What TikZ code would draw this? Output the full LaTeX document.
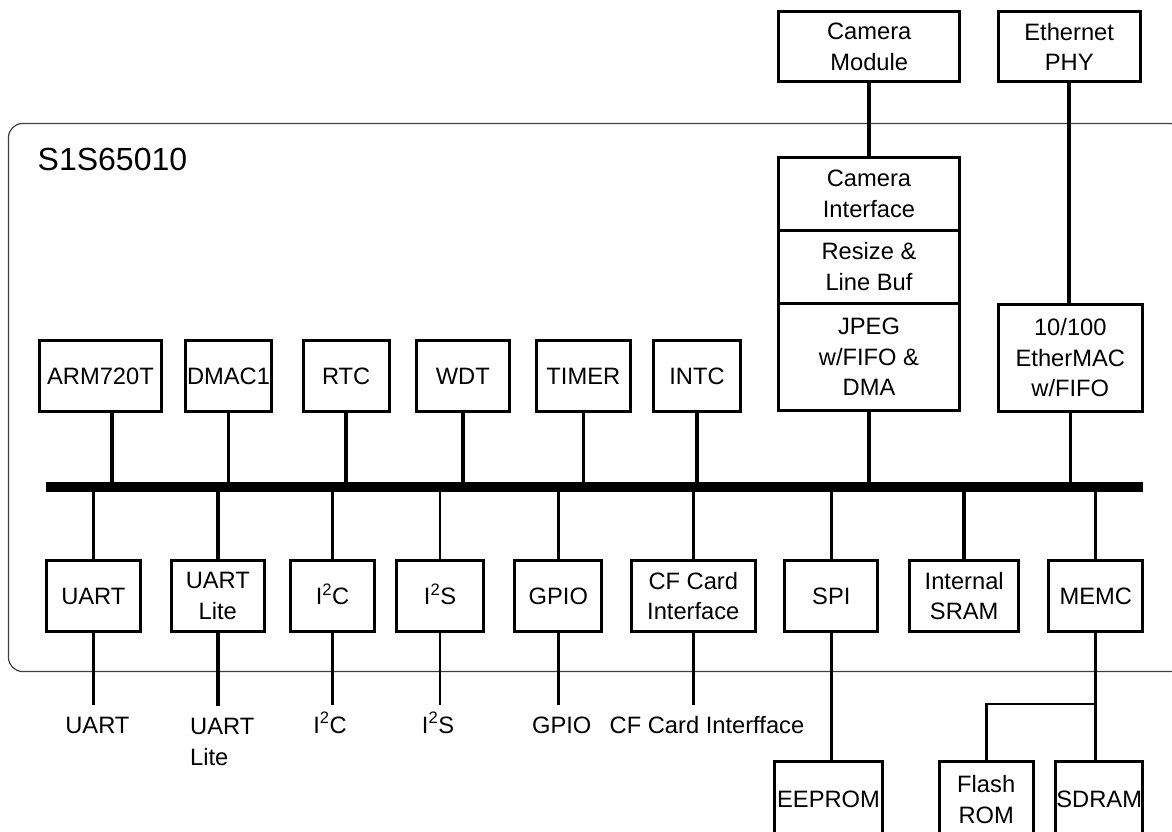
\documentclass[tikz,border=0pt]{standalone}
\usepackage{fontspec}
\setmainfont{Liberation Sans}

\begin{document}
\begin{tikzpicture}[x=1pt, y=-1pt,
    blk/.style={draw, line width=3pt, inner sep=0pt, align=center, minimum height=71pt, font=\fontsize{23.7}{30.5}\selectfont},
    link/.style={line width=3.5pt},
    thinlink/.style={line width=2.9pt},
    bus/.style={line width=10pt},
    frame/.style={draw=black!75, line width=1.2pt, rounded corners=14pt},
    padlbl/.style={inner sep=0pt, font=\fontsize{23.7}{31.5}\selectfont}]
    \useasboundingbox (0,0) rectangle (1172,832);
    \clip (0,0) rectangle (1172,832);
    \draw[frame] (8.5,123.5) rectangle (1184,671.5);
    \node [padlbl, anchor=base west, font=\fontsize{32}{36}\selectfont] (chip) at (37.5,170) {S1S65010};

    \node [blk, minimum width=122.6pt] (arm) at (100.5,376.3) {ARM720T};
    \node [blk, minimum width=86.6pt] (dmac) at (228.5,376.3) {DMAC1};
    \node [blk, minimum width=86pt] (rtc) at (346.2,376.3) {RTC};
    \node [blk, minimum width=92.7pt] (wdt) at (462.8,376.3) {WDT};
    \node [blk, minimum width=93.7pt] (timer) at (583.3,376.3) {TIMER};
    \node [blk, minimum width=86.4pt] (intc) at (697,376.3) {INTC};
    \node [blk, minimum width=181pt, minimum height=72.5pt] (camif) at (869,193.75) {Camera\\Interface};
    \node [blk, minimum width=181pt, minimum height=73.3pt] (resize) at (869,266.65) {Resize \&\\Line Buf};
    \node [blk, minimum width=181pt, minimum height=107.5pt] (jpeg) at (869,357) {JPEG\\w/FIFO \&\\DMA};
    \node [blk, minimum width=144.3pt, minimum height=107.6pt] (emac) at (1070.3,358) {10/100\\EtherMAC\\w/FIFO};
    \node [blk, minimum width=180.7pt, minimum height=70.3pt] (cammod) at (869.2,46.7) {Camera\\Module};
    \node [blk, minimum width=142pt, minimum height=70.3pt] (ephy) at (1069.2,46.7) {Ethernet\\PHY};

    \node [blk, minimum width=93.7pt] (uart) at (93.3,596) {UART};
    \node [blk, minimum width=92.7pt] (ulite) at (217.8,596) {UART\\Lite};
    \node [blk, minimum width=83.4pt, text height=17pt, text depth=0pt] (i2c) at (332.5,596) {I\textsuperscript{2}C};
    \node [blk, minimum width=87pt, text height=17pt, text depth=0pt] (i2s) at (440,596) {I\textsuperscript{2}S};
    \node [blk, minimum width=87pt] (gpio) at (558.3,596) {GPIO};
    \node [blk, minimum width=123.7pt] (cf) at (693.3,596) {CF Card\\Interface};
    \node [blk, minimum width=93pt] (spi) at (831.3,596) {SPI};
    \node [blk, minimum width=108.7pt] (sram) at (964.2,596) {Internal\\SRAM};
    \node [blk, minimum width=93.7pt] (memc) at (1095.7,596) {MEMC};

    \node [blk, minimum width=107.6pt, minimum height=76pt] (eeprom) at (828.5,799.5) {EEPROM};
    \node [blk, minimum width=94pt, minimum height=76pt] (flash) at (986.2,799.5) {Flash\\ROM};
    \node [blk, minimum width=86.7pt, minimum height=76pt] (sdram) at (1099.2,799.5) {SDRAM};

    \node [padlbl, text height=17pt, anchor=base] (uartpin) at (97.4,733) {UART};
    \node [padlbl, align=left, anchor=north west] (ulitepin) at (190,717.5) {UART\\Lite};
    \node [padlbl, text height=17pt, anchor=base] (i2cpin) at (330,733) {I\textsuperscript{2}C};
    \node [padlbl, text height=17pt, anchor=base] (i2spin) at (438,733) {I\textsuperscript{2}S};
    \node [padlbl, text height=17pt, anchor=base] (gpiopin) at (561.7,733) {GPIO};
    \node [padlbl, text height=17pt, anchor=base west] (cfpin) at (609.5,733) {CF Card Interfface};

    \coordinate (busL) at (46,487);
    \coordinate (busR) at (1143,487);
    \draw[bus] (busL) -- (busR);

    \draw[link]
        ([xshift=11.5pt]arm.south) -- ([xshift=11.5pt]arm.south |- busL)
        (dmac.south) -- (dmac.south |- busL)
        (rtc.south) -- (rtc.south |- busL)
        (wdt.south) -- (wdt.south |- busL)
        (timer.south) -- (timer.south |- busL)
        (intc.south) -- (intc.south |- busL)
        (jpeg.south) -- (jpeg.south |- busL)
        (emac.south) -- (emac.south |- busL)
        (uart.north) -- (uart.north |- busL)
        (ulite.north) -- (ulite.north |- busL)
        (i2c.north) -- (i2c.north |- busL)
        (cf.north) -- (cf.north |- busL)
        (sram.north) -- (sram.north |- busL)
        (cammod.south) -- (cammod.south |- camif.north)
        (ephy.south) -- (ephy.south |- emac.north);
    \draw[thinlink]
        (i2s.north) -- (i2s.north |- busL)
        (gpio.north) -- (gpio.north |- busL)
        (spi.north) -- (spi.north |- busL)
        (memc.north) -- (memc.north |- busL);

    \draw[link]
        (uart.south) -- ([yshift=10.5pt]uart.south |- uartpin.north)
        (ulite.south) -- ([yshift=12pt]ulite.south |- ulitepin.north)
        (i2c.south) -- ([yshift=10.5pt]i2c.south |- i2cpin.north)
        (cf.south) -- ([yshift=10.5pt]cf.south |- cfpin.north);
    \draw[thinlink]
        (i2s.south) -- ([yshift=10.5pt]i2s.south |- i2spin.north)
        (gpio.south) -- ([yshift=10.5pt]gpio.south |- gpiopin.north)
        (spi.south) -- (spi.south |- eeprom.north)
        (memc.south) -- (memc.south |- sdram.north);
    \coordinate (memtap) at ([yshift=56pt]memc.south |- sdram.north);
    \draw[thinlink] (memtap) -| (flash.north);
\end{tikzpicture}
\end{document}
